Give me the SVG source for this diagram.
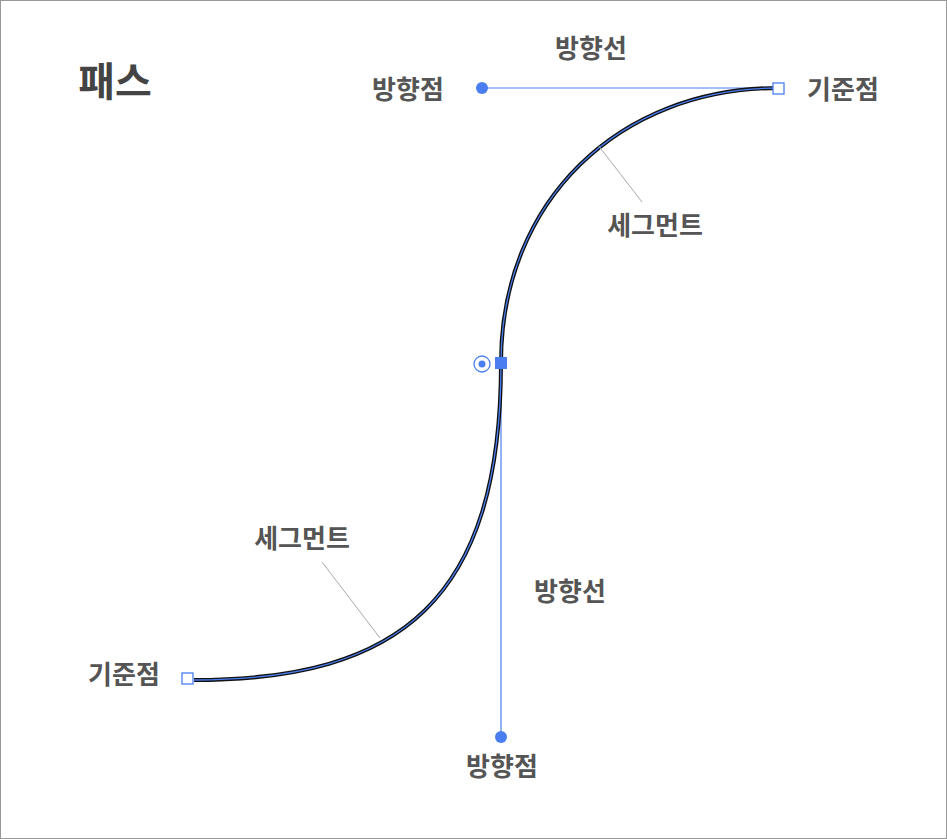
<svg xmlns="http://www.w3.org/2000/svg" width="947" height="839" viewBox="0 0 947 839">
<style>
.t{font-family:"Noto Sans CJK KR","Noto Sans",sans-serif;font-weight:bold;fill:#555;font-size:26px;text-anchor:middle}
.h{stroke:#4a7ef0;stroke-width:1.2;fill:none}
.lead{stroke:#aaa;stroke-width:1;fill:none}
.anc{fill:#fff;stroke:#4a7ef0;stroke-width:1.3}
.dot{fill:#4a7ef0}
</style>
<rect x="0.5" y="0.5" width="946" height="838" fill="#fff" stroke="#999"/>
<text x="115" y="96" class="t" style="font-size:40px;fill:#444">패스</text>
<g id="connectors">
<line class="h" x1="482" y1="88" x2="778" y2="88"/>
<line class="h" x1="501" y1="363" x2="501" y2="737"/>
<path d="M194,680 C400,680 501,600 501,363 C501,200 620,88 778,88" fill="none" stroke="#111" stroke-width="4"/>
<path d="M194,680 C400,680 501,600 501,363 C501,200 620,88 778,88" fill="none" stroke="#4a7ef0" stroke-width="1.3"/>
<line class="lead" x1="598" y1="145" x2="642" y2="202"/>
<line class="lead" x1="380" y1="638" x2="322" y2="562"/>
</g>
<g id="handle-top"><circle class="dot" cx="482" cy="88" r="6"/></g>
<g id="anchor-top"><rect class="anc" x="773" y="83" width="11" height="11"/></g>
<g id="anchor-bottom"><rect class="anc" x="182" y="673" width="11" height="11"/></g>
<g id="anchor-mid"><rect class="dot" x="495" y="357" width="12" height="12"/><circle cx="482" cy="364" r="8" fill="#fff" stroke="#4a7ef0" stroke-width="1.3"/><circle class="dot" cx="482" cy="364" r="3.5"/></g>
<g id="handle-bottom"><circle class="dot" cx="501" cy="737" r="6"/></g>
<g id="labels">
<text x="591" y="58" class="t">방향선</text>
<text x="408" y="99" class="t">방향점</text>
<text x="843" y="99" class="t">기준점</text>
<text x="655" y="235" class="t">세그먼트</text>
<text x="302" y="548" class="t">세그먼트</text>
<text x="570" y="601" class="t">방향선</text>
<text x="124" y="684" class="t">기준점</text>
<text x="502" y="776" class="t">방향점</text>
</g>
</svg>
